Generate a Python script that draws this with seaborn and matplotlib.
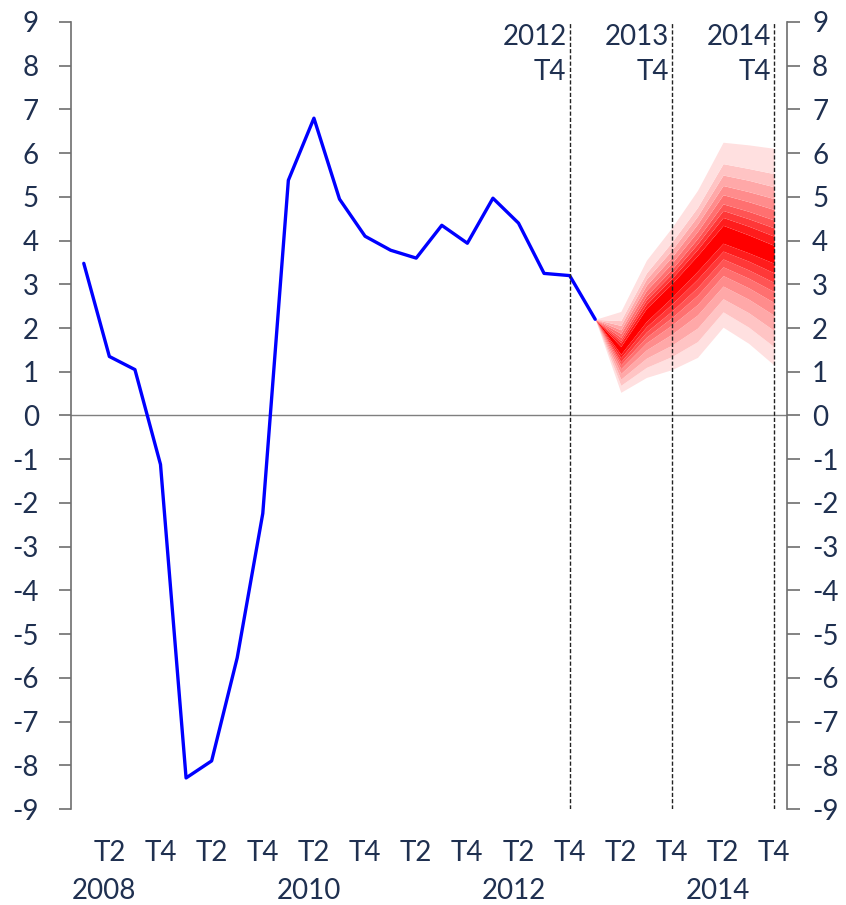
import numpy as np
import pandas as pd
import matplotlib
matplotlib.use("Agg")
import matplotlib.pyplot as plt
import seaborn as sns

# Quarterly observations, 2008 T1 .. 2013 T1
hist_values = [3.48, 1.35, 1.05, -1.12, -8.29, -7.90, -5.54, -2.24,
               5.38, 6.80, 4.95, 4.10, 3.78, 3.60, 4.35, 3.94,
               4.97, 4.40, 3.25, 3.20, 2.20]

# Forecast quarters 2013 T1 .. 2014 T4 (index of quarter from 2008 T1)
fan_quarters = [20, 21, 22, 23, 24, 25, 26, 27]

# Fan band edges per forecast quarter, ascending (outer low -> centre -> outer high)
fan_edges = [
    [2.20] * 18,
    [0.53, 0.69, 0.83, 0.96, 1.07, 1.16, 1.23, 1.32, 1.40,
     1.58, 1.66, 1.72, 1.79, 1.88, 1.96, 2.06, 2.17, 2.38],
    [0.87, 1.10, 1.31, 1.50, 1.66, 1.79, 1.91, 2.03, 2.15,
     2.45, 2.55, 2.65, 2.74, 2.86, 2.98, 3.12, 3.26, 3.55],
    [1.05, 1.35, 1.61, 1.86, 2.07, 2.24, 2.39, 2.55, 2.70,
     3.02, 3.14, 3.25, 3.35, 3.49, 3.63, 3.79, 3.97, 4.30],
    [1.33, 1.69, 2.00, 2.30, 2.54, 2.75, 2.93, 3.12, 3.30,
     3.66, 3.80, 3.93, 4.05, 4.21, 4.38, 4.56, 4.76, 5.15],
    [2.02, 2.37, 2.67, 2.96, 3.20, 3.40, 3.58, 3.76, 3.94,
     4.35, 4.53, 4.69, 4.84, 5.05, 5.26, 5.50, 5.76, 6.25],
    [1.65, 2.02, 2.35, 2.66, 2.92, 3.14, 3.33, 3.53, 3.72,
     4.13, 4.33, 4.50, 4.67, 4.89, 5.12, 5.38, 5.65, 6.19],
    [1.15, 1.57, 1.94, 2.29, 2.58, 2.83, 3.04, 3.26, 3.48,
     3.89, 4.10, 4.29, 4.47, 4.71, 4.96, 5.23, 5.53, 6.11],
]

# Shades from the outermost band to the central band
fan_colors = ["#ffe0e0", "#ffc4c4", "#ffa8a8", "#ff8c8c", "#ff7070",
              "#ff5454", "#ff3838", "#ff1c1c", "#ff0000"]

tick_labels = ["T2", "T4"] * 7
year_labels = ["2008", "2010", "2012", "2014"]
year_positions = [1, 9, 17, 25]
marker_quarters = [19, 23, 27]
marker_labels = ["2012\nT4", "2013\nT4", "2014\nT4"]

text_color = "#1f3050"
spine_color = "#6e6e6e"
fs = 20

sns.set_style("white")
plt.rcParams["font.family"] = ["Lato", "DejaVu Sans"]

fig = plt.figure(figsize=(8.46, 9.05), dpi=100)
ax = fig.add_axes([71 / 846, 1 - 809 / 905, (787 - 71) / 846, (809 - 22) / 905])

# Fan chart
edges = np.array(fan_edges)
n_edges = edges.shape[1]
for i in range(n_edges - 1):
    k = i if i < len(fan_colors) - 1 else (n_edges - 2 - i)
    k = min(k, len(fan_colors) - 1)
    ax.fill_between(fan_quarters, edges[:, i], edges[:, i + 1],
                    color=fan_colors[k], linewidth=0, zorder=2)

# Observed series
df = pd.DataFrame({"q": np.arange(len(hist_values)), "v": hist_values})
sns.lineplot(data=df, x="q", y="v", ax=ax, color="#0000ff", linewidth=2.4, zorder=4)

# Zero line and year markers
ax.axhline(0, color="#7f7f7f", linewidth=1.0, zorder=1)
for q, lab in zip(marker_quarters, marker_labels):
    ax.axvline(q, color="#222222", linewidth=1.0, linestyle=(0, (3, 1.5)), zorder=5)
    ax.text(q - 0.12, 8.95, lab, ha="right", va="top", fontsize=fs,
            color=text_color, linespacing=1.4)

ax.set_xlim(-0.5, 27.5)
ax.set_ylim(-9, 9)
ax.set_xlabel("")
ax.set_ylabel("")

ax.set_yticks(range(-9, 10))
ax.set_yticklabels([str(v) for v in range(-9, 10)])
ax.tick_params(axis="y", direction="out", length=9, width=1.2, color=spine_color,
               labelsize=fs, labelcolor=text_color, pad=14, left=True)

ax.set_xticks(range(1, 28, 2))
ax.set_xticklabels(tick_labels)
ax.tick_params(axis="x", length=0, labelsize=fs, labelcolor=text_color, pad=22)
for x, y in zip(year_positions, year_labels):
    ax.text(x - 0.2, -11.05, y, ha="center", va="baseline", fontsize=fs,
            color=text_color, clip_on=False)

for side in ["top", "bottom", "right"]:
    ax.spines[side].set_visible(False)
ax.spines["left"].set_color(spine_color)
ax.spines["left"].set_linewidth(1.2)

ax2 = ax.twinx()
ax2.set_ylim(-9, 9)
ax2.set_yticks(range(-9, 10))
ax2.set_yticklabels([str(v) for v in range(-9, 10)])
ax2.tick_params(axis="y", direction="out", length=9, width=1.2, color=spine_color,
                labelsize=fs, labelcolor=text_color, pad=9, right=True)
for side in ["top", "bottom", "left"]:
    ax2.spines[side].set_visible(False)
ax2.spines["right"].set_color(spine_color)
ax2.spines["right"].set_linewidth(1.2)
ax2.grid(False)
ax.grid(False)

fig.savefig("out.png", dpi=100)
